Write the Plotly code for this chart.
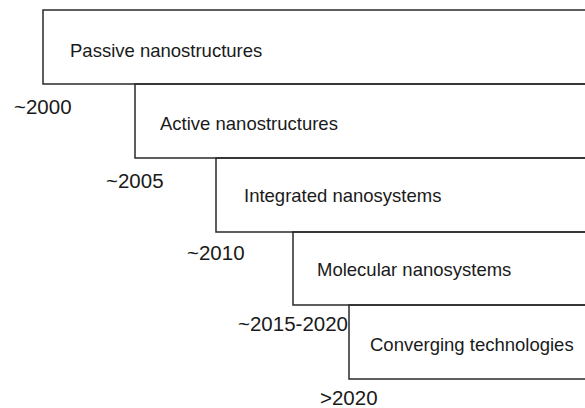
import plotly.graph_objects as go

# Data
stages = ["Passive nanostructures", "Active nanostructures", "Integrated nanosystems",
          "Molecular nanosystems", "Converging technologies"]
periods = ["~2000", "~2005", "~2010", "~2015-2020", ">2020"]

# Layout (pixel-based diagram coordinates)
box_left = [43, 135, 216, 293, 349]
box_top = [10, 84, 158, 232, 305]
box_bottom = [84, 158, 232, 305, 379]
text_pad = [25, 23, 26, 22, 19]
text_dy = [3, 2, 0, 1, 2]
label_dy = [22, 22.5, 20, 18, 18]
W, H = 585, 408

fig = go.Figure()
shapes = []
annotations = []
for i, s in enumerate(stages):
    x0, y0, y1 = box_left[i], box_top[i], box_bottom[i]
    shapes.append(dict(type="rect", xref="x", yref="y", x0=x0, x1=W + 20, y0=y0, y1=y1,
                       line=dict(color="#2a2a2a", width=1.5), fillcolor="rgba(0,0,0,0)"))
    annotations.append(dict(x=x0 + text_pad[i], y=(y0 + y1) / 2 + text_dy[i], xref="x", yref="y",
                            text=s, showarrow=False, xanchor="left", yanchor="middle",
                            font=dict(family="Liberation Sans, Arial", size=18.5, color="#1a1a1a")))
    annotations.append(dict(x=x0, y=y1 + label_dy[i], xref="x", yref="y",
                            text=periods[i], showarrow=False, xanchor="center", yanchor="middle",
                            borderpad=0,
                            font=dict(family="Liberation Sans, Arial", size=20.5, color="#1a1a1a")))

fig.add_trace(go.Scatter(x=[0, W], y=[0, H], mode="markers", marker=dict(opacity=0),
                         hoverinfo="skip", showlegend=False))
fig.update_layout(width=W, height=H, margin=dict(l=0, r=0, t=0, b=0),
                  paper_bgcolor="white", plot_bgcolor="white",
                  shapes=shapes, annotations=annotations,
                  xaxis=dict(range=[0, W], visible=False, fixedrange=True),
                  yaxis=dict(range=[H, 0], visible=False, fixedrange=True))
fig.write_html("out.html", config={"displayModeBar": False})

with open("out.html", "r", encoding="utf-8") as f:
    html = f.read()
html = html.replace("<head>", "<head><style>html,body{margin:0;padding:0;overflow:hidden;}</style>", 1)
with open("out.html", "w", encoding="utf-8") as f:
    f.write(html)
